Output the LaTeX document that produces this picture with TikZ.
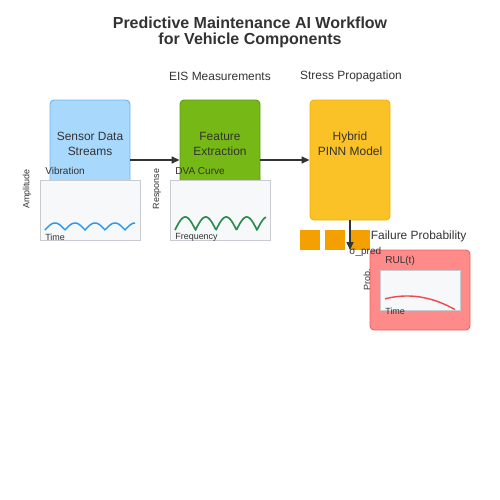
\documentclass[tikz,border=0pt]{standalone}
\usepackage{fontspec}
\setmainfont{Liberation Sans}
\usetikzlibrary{arrows.meta,positioning}

\definecolor{ink}{HTML}{333333}
\definecolor{sensorfill}{HTML}{A8D8FC}
\definecolor{sensorline}{HTML}{6CB4EE}
\definecolor{featfill}{HTML}{76B816}
\definecolor{featline}{HTML}{5E9A10}
\definecolor{pinnfill}{HTML}{FAC226}
\definecolor{pinnline}{HTML}{F2B000}
\definecolor{rulfill}{HTML}{FF8A8A}
\definecolor{rulline}{HTML}{EE6262}
\definecolor{chipfill}{HTML}{F4A000}
\definecolor{panelfill}{HTML}{F6F8FA}
\definecolor{panelline}{HTML}{C8CCD0}
\definecolor{vibwave}{HTML}{2B9AF0}
\definecolor{dvawave}{HTML}{2E8B4E}
\definecolor{rulcurve}{HTML}{F04848}

\tikzset{
  stage/.style={draw, rounded corners=0.8mm, line width=0.5pt,
    minimum width=16mm, minimum height=24mm},
  stagetext/.style={align=center, text=ink, inner sep=0pt,
    font=\fontsize{6.8}{8.5}\selectfont},
  panel/.style={draw=panelline, fill=panelfill, line width=0.5pt,
    minimum width=20mm, minimum height=12mm},
  heading/.style={text=ink, inner sep=0pt, font=\fontsize{6.8}{8}\selectfont},
  smalltag/.style={text=ink, inner sep=0pt, anchor=west,
    font=\fontsize{5.7}{6.5}\selectfont},
  axistag/.style={text=ink, inner sep=0pt, font=\fontsize{5.1}{6}\selectfont},
  flow/.style={draw=ink, line width=0.85pt, -{Triangle[length=1.6mm,width=1.4mm]}},
  chip/.style={fill=chipfill, minimum size=4mm, inner sep=0pt}
}

\begin{document}
\begin{tikzpicture}[x=0.2mm, y=-0.2mm]
  \useasboundingbox (0,0) rectangle (500,500);

  \node[align=center, text=ink, font=\bfseries\fontsize{9.1}{9}\selectfont]
    (title) at (250,32) {Predictive Maintenance AI Workflow\\for Vehicle Components};
  \node[heading] (eis) at (220,76) {EIS Measurements};
  \node[heading] (stress) at (351,76) {Stress Propagation};

  \node[stage, fill=sensorfill, draw=sensorline] (sensor) at (90,160) {};
  \node[stage, fill=featfill, draw=featline] (feature) at (220,160) {};
  \node[stage, fill=pinnfill, draw=pinnline] (pinn) at (350,160) {};
  \node[stagetext] (sensortext) at (90,143.5) {Sensor Data\\Streams};
  \node[stagetext] (featuretext) at (220,143.5) {Feature\\Extraction};
  \node[stagetext] (pinntext) at (350,143.5) {Hybrid\\PINN Model};

  \draw[flow] (sensor.east) -- (feature.west);
  \draw[flow] (feature.east) -- (pinn.west);

  % signal panels under the first two stages
  \node[panel] (vibplot) at (90,210) {};
  \node[panel] (dvaplot) at (220,210) {};
  \draw[vibwave, line width=0.85pt, domain=0:90, samples=120]
    plot ({45+\x}, {230-7*abs(sin(180*\x/20))});
  \draw[dvawave, line width=0.95pt, domain=0:91, samples=120]
    plot ({175+\x}, {230-13*abs(sin(180*\x/20.5))});
  \node[smalltag] (vib) at (45,171) {Vibration};
  \node[smalltag] (dva) at (175,171) {DVA Curve};
  \node[axistag, rotate=90] (amp) at (27,189) {Amplitude};
  \node[axistag, rotate=90] (resp) at (157,189) {Response};
  \node[axistag, anchor=west] (vibtime) at (45,237) {Time};
  \node[axistag, anchor=west] (freq) at (175,237) {Frequency};

  % model output
  \foreach \i/\x in {1/310,2/335,3/360}
    \node[chip] (chip\i) at (\x,240) {};
  \coordinate (pred) at (350,250);
  \draw[flow] (pinn.south) -- (pred);
  \node[heading, anchor=west] (failure) at (370.5,236) {Failure Probability};

  \node[draw=rulline, fill=rulfill, line width=0.5pt, rounded corners=0.8mm,
    minimum width=20mm, minimum height=16mm] (rul) at (420,290) {};
  \node[smalltag] (sigma) at (349,251.5) {σ\_pred};
  \node[panel, minimum width=16mm, minimum height=8mm] (rulplot) at (420,290) {};
  \draw[rulcurve, line width=0.8pt, domain=385:455, samples=60]
    plot (\x, {296+0.0059*(\x-407)*(\x-407)});
  \node[smalltag] (rultag) at (385,261) {RUL(t)};
  \node[axistag, rotate=90] (prob) at (367,280) {Prob.};
  \node[axistag, anchor=west] (rultime) at (385,311) {Time};
\end{tikzpicture}
\end{document}
